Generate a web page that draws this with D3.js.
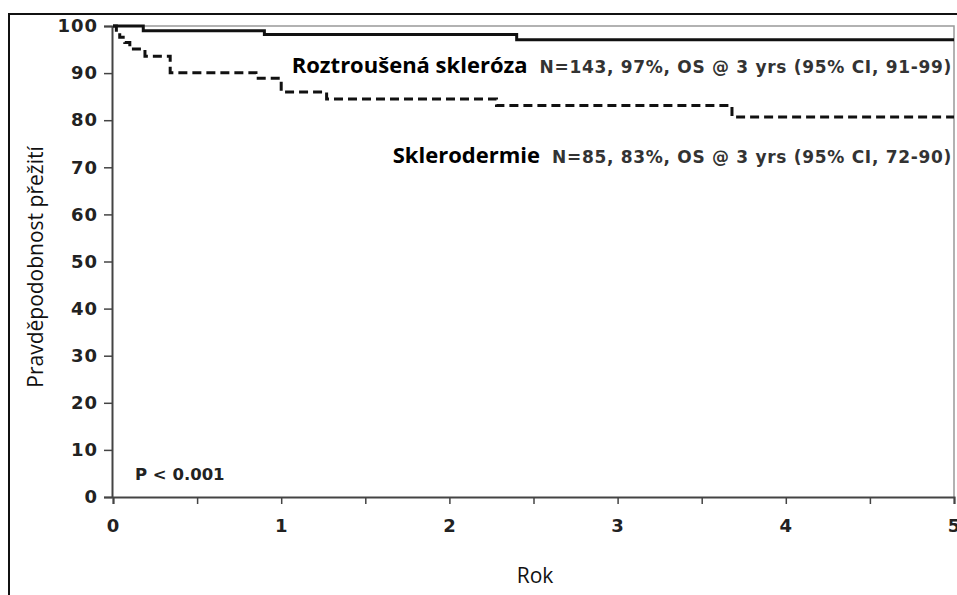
<!DOCTYPE html>
<html>
<head>
<meta charset="utf-8">
<script src="https://cdn.jsdelivr.net/npm/d3@7"></script>
<style>
  body { margin: 0; background: #fff; }
  svg { display: block; }
</style>
</head>
<body>
<script>
// Kaplan-Meier steps
const msTime = [0, 0.18, 0.9, 2.4, 5];
const msSurv = [100, 99.0, 98.2, 97.1, 97.1];
const sscTime = [0, 0.02, 0.04, 0.07, 0.1, 0.19, 0.34, 0.85, 1.0, 1.27, 2.28, 3.68, 5];
const sscSurv = [100, 98.8, 97.6, 96.5, 95.1, 93.6, 90.1, 88.9, 86.0, 84.5, 83.1, 80.7, 80.7];

const yTicks = [0, 10, 20, 30, 40, 50, 60, 70, 80, 90, 100];
const xTicks = [0, 0.5, 1, 1.5, 2, 2.5, 3, 3.5, 4, 4.5, 5];
const xLabels = [0, 1, 2, 3, 4, 5];

const width = 957;
const height = 595;

const svg = d3
  .select("body")
  .append("svg")
  .attr("width", width)
  .attr("height", height);

const x = d3.scaleLinear().domain([0, 5]).range([113, 954]);
const y = d3.scaleLinear().domain([0, 100]).range([497, 26]);

// outer frame (runs off the right and bottom edges)
svg
  .append("path")
  .attr("d", `M9,${height + 5} V14 H${width + 5}`)
  .attr("fill", "none")
  .attr("stroke", "#111")
  .attr("stroke-width", 2);

// thin plot frame top/right
svg
  .append("path")
  .attr("d", `M${x(0)},${y(100)} H${x(5)} V${y(0)}`)
  .attr("fill", "none")
  .attr("stroke", "#999")
  .attr("stroke-width", 1.5);

// Axes

const tickFont = (sel) =>
  sel
    .attr("fill", "#222")
    .style("font-family", "DejaVu Sans, Verdana, sans-serif")
    .style("font-weight", "bold")
    .style("font-size", "18px")
    .style("letter-spacing", "1px");

const yAxis = d3
  .axisLeft(y)
  .tickValues(yTicks)
  .tickSize(8)
  .tickPadding(6);

const yAxisEl = svg
  .append("g")
  .attr("transform", `translate(${x(0) - 1}, 0)`)
  .call(yAxis);

yAxisEl.select(".domain").attr("stroke", "#444").attr("stroke-width", 2);
yAxisEl.selectAll(".tick line").attr("stroke", "#444").attr("stroke-width", 1.5);
yAxisEl.selectAll(".tick text").call(tickFont);

const xAxis = d3
  .axisBottom(x)
  .tickValues(xTicks)
  .tickSize(7)
  .tickPadding(15)
  .tickFormat((d) => (xLabels.includes(d) ? d : ""));

const xAxisEl = svg
  .append("g")
  .attr("transform", `translate(0, ${y(0)})`)
  .call(xAxis);

xAxisEl.select(".domain").attr("stroke", "#444").attr("stroke-width", 2);
xAxisEl.selectAll(".tick line").attr("stroke", "#444").attr("stroke-width", 1.5);
xAxisEl.selectAll(".tick text").call(tickFont);

// Curves

const line = d3
  .line()
  .curve(d3.curveStepAfter)
  .x((d) => x(d[0]))
  .y((d) => y(d[1]));

svg
  .append("path")
  .datum(sscTime.map((t, i) => [t, sscSurv[i]]))
  .attr("d", line)
  .attr("fill", "none")
  .attr("stroke", "#111")
  .attr("stroke-width", 3)
  .attr("stroke-dasharray", "9,5");

svg
  .append("path")
  .datum(msTime.map((t, i) => [t, msSurv[i]]))
  .attr("d", line)
  .attr("fill", "none")
  .attr("stroke", "#111")
  .attr("stroke-width", 3);

// Labels

function curveLabel(name, info, baseline) {
  const infoText = svg
    .append("text")
    .attr("x", 952)
    .attr("y", baseline)
    .attr("text-anchor", "end")
    .attr("fill", "#333")
    .style("font-family", "DejaVu Sans, Verdana, sans-serif")
    .style("font-weight", "bold")
    .style("font-size", "17px")
    .style("letter-spacing", "0.7px")
    .text(info);

  const infoWidth = infoText.node().getComputedTextLength();

  svg
    .append("text")
    .attr("x", 952 - infoWidth - 12)
    .attr("y", baseline)
    .attr("text-anchor", "end")
    .attr("fill", "#000")
    .style("font-family", "Open Sans, sans-serif")
    .style("font-weight", "bold")
    .style("font-size", "22px")
    .text(name);
}

curveLabel("Roztroušená skleróza", "N=143, 97%, OS @ 3 yrs (95% CI, 91-99)", 73);
curveLabel("Sklerodermie", "N=85, 83%, OS @ 3 yrs (95% CI, 72-90)", 163);

svg
  .append("text")
  .attr("x", 135)
  .attr("y", 480)
  .attr("fill", "#222")
  .style("font-family", "DejaVu Sans, Verdana, sans-serif")
  .style("font-weight", "bold")
  .style("font-size", "16.5px")
  .text("P < 0.001");

svg
  .append("text")
  .attr("x", 535)
  .attr("y", 583)
  .attr("text-anchor", "middle")
  .attr("fill", "#111")
  .style("font-family", "Open Sans, sans-serif")
  .style("font-size", "21px")
  .text("Rok");

svg
  .append("text")
  .attr("transform", "translate(43, 267) rotate(-90)")
  .attr("text-anchor", "middle")
  .attr("fill", "#111")
  .style("font-family", "Open Sans, sans-serif")
  .style("font-size", "21px")
  .text("Pravděpodobnost přežití");
</script>
</body>
</html>
